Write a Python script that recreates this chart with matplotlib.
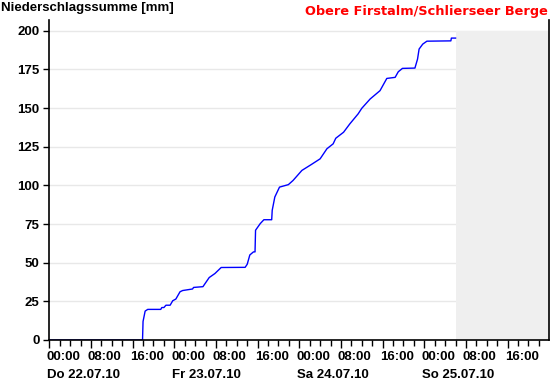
import matplotlib
matplotlib.use("Agg")
import matplotlib.pyplot as plt
import matplotlib.transforms as mtransforms
import numpy as np

# hours since Do 22.07.10 00:00
hours = [0, 17.9, 18.0, 18.4, 18.9, 21.4, 21.6, 22.0, 22.4, 23.2, 23.7, 24.3,
         25.1, 25.6, 27.5, 27.7, 29.5, 30.7, 31.8, 33.0, 37.6, 38.0, 38.5,
         39.2, 39.5, 39.6, 40.5, 41.2, 42.7, 42.8, 43.3, 44.2, 45.9, 46.8,
         48.5, 50.3, 52.0, 53.3, 54.5, 55.0, 56.5, 57.7, 59.3, 60.0, 61.6,
         63.5, 64.8, 66.4, 67.0, 67.8, 70.2, 70.7, 71.0, 71.7, 72.5, 77.1,
         77.2, 78.0]
summe = [0, 0, 12, 18.7, 19.8, 19.8, 21, 21, 22.5, 22.5, 25.4, 26.5,
         31.2, 32, 33, 34, 34.5, 40.4, 43, 46.9, 47, 49, 55,
         57, 57, 71, 75.3, 77.8, 77.8, 83.9, 92.5, 98.9, 100.5, 103.2,
         109.7, 113.5, 117.2, 123.7, 126.9, 130.5, 134.4, 139.8, 146.3, 149.9, 155.9,
         161.3, 169.2, 169.9, 173.5, 175.7, 175.9, 181.7, 188.2, 191.4, 193.3, 193.5,
         195.3, 195.3]

forecast_start = 78.0
tage = ["Do 22.07.10", "Fr 23.07.10", "Sa 24.07.10", "So 25.07.10"]
zeiten = ["00:00", "08:00", "16:00"]
yticks = [0, 25, 50, 75, 100, 125, 150, 175, 200]

plt.rcParams['font.family'] = ['Liberation Sans', 'DejaVu Sans']
fs = 9.5

fig = plt.figure(figsize=(5.5, 3.8), dpi=100)
ax = fig.add_axes([49.3 / 550, 40 / 380, 500 / 550, 320 / 380])

ax.set_xlim(0, 96)
ax.set_ylim(0, 207)

# grid lines (not at 0)
for yv in yticks[1:]:
    ax.axhline(yv, color='#e8e8e8', lw=1, zorder=0)
# not yet measured part
ax.fill_between([forecast_start, 96], 0, 200, color='#efefef', lw=0, zorder=1)

ax.plot(hours, summe, color='#0000ff', lw=1.0, zorder=2)

ax.spines['top'].set_visible(False)
for s in ['left', 'right', 'bottom']:
    ax.spines[s].set_linewidth(1.2)
    ax.spines[s].set_color('black')
    ax.spines[s].set_zorder(3)

ax.set_yticks(yticks)
ax.set_yticklabels([str(v) for v in yticks], fontsize=fs, fontweight='bold')
ax.tick_params(axis='y', length=4, width=1, pad=3, right=False)

major = np.arange(0, 96, 8)
ax.set_xticks(major)
ax.set_xticklabels([zeiten[i % 3] for i in range(len(major))], fontsize=fs,
                   fontweight='bold', ha='left')
ax.set_xticks(np.arange(0, 96, 2), minor=True)
ax.tick_params(axis='x', which='major', length=6, width=1, pad=2)
ax.tick_params(axis='x', which='minor', length=4, width=1)
off = mtransforms.ScaledTranslation(-3 / 100, 0, fig.dpi_scale_trans)
for lab in ax.get_xticklabels():
    lab.set_transform(lab.get_transform() + off)

for i, t in enumerate(tage):
    ax.annotate(t, xy=(i * 24, 0), xycoords=('data', 'axes fraction'),
                xytext=(-2, -35), textcoords='offset pixels',
                ha='left', va='center', fontsize=fs, fontweight='bold')

fig.text(0.002, 1 - 8 / 380, "Niederschlagssumme [mm]", fontsize=fs,
         fontweight='bold', ha='left', va='center')
fig.text(548 / 550, 1 - 11 / 380, "Obere Firstalm/Schlierseer Berge",
         fontsize=9.3, fontweight='bold', color='#ff0000', ha='right',
         va='center', family=['DejaVu Sans'])

fig.savefig("out.png", dpi=100)
